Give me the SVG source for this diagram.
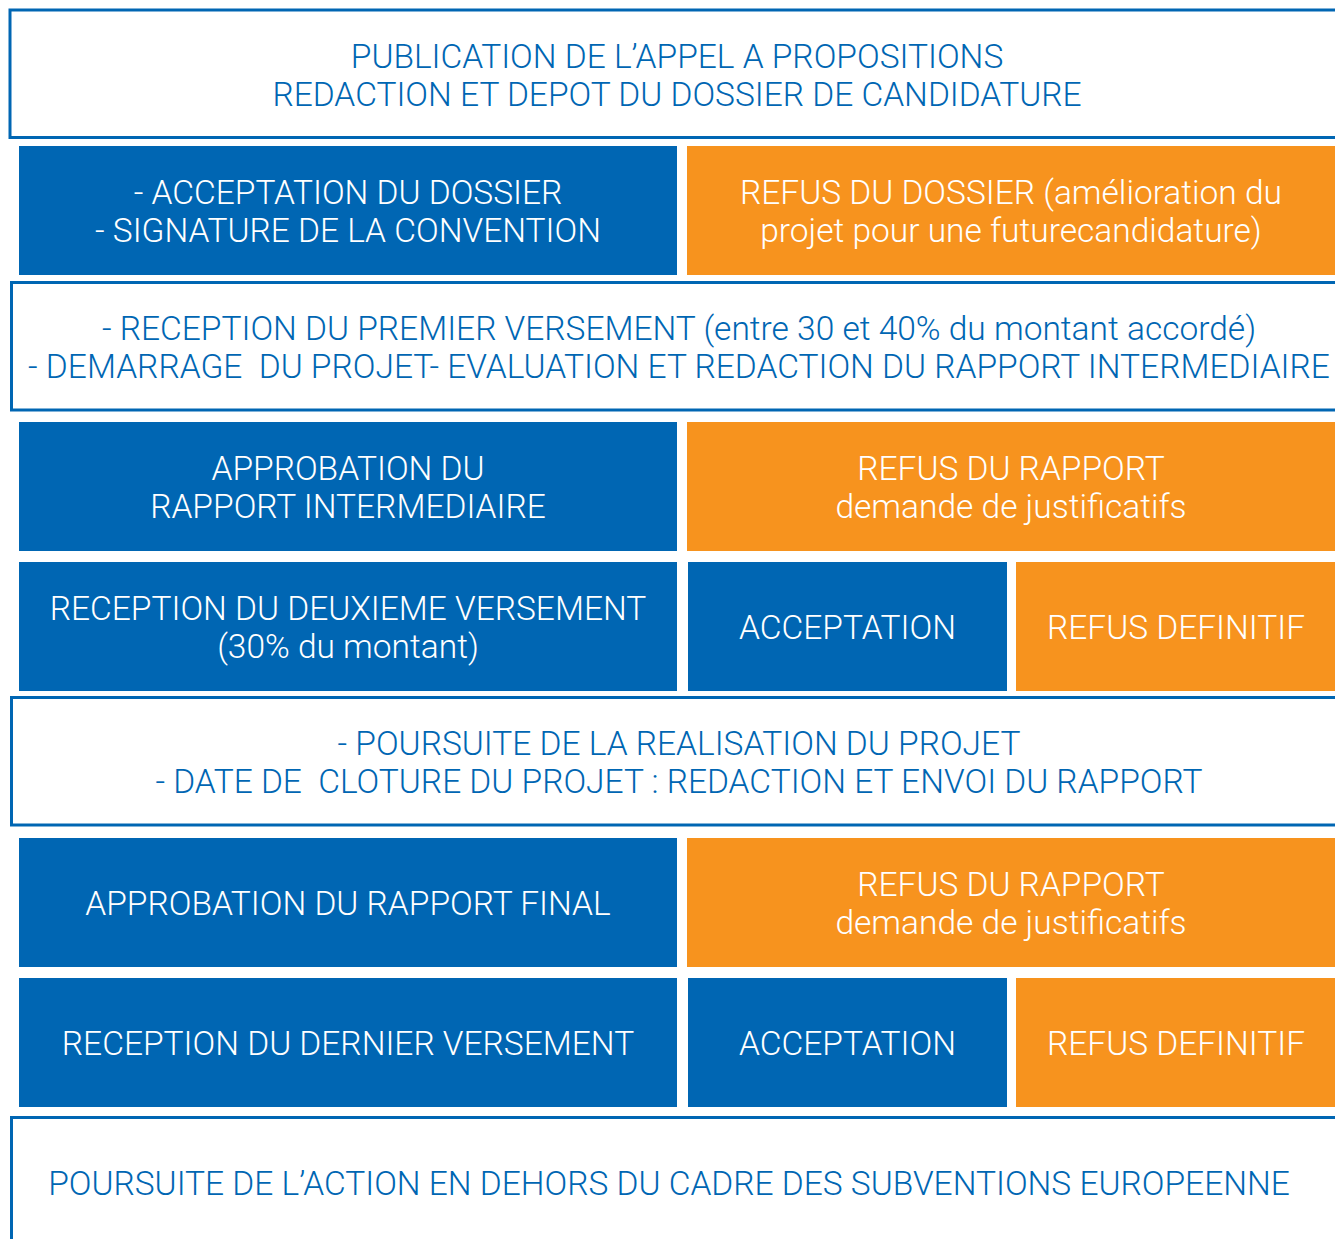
<svg xmlns="http://www.w3.org/2000/svg" width="1335" height="1239" viewBox="0 0 1335 1239">
<style>
.w{fill:#fff;stroke:#0066B3;stroke-width:3}
.b{fill:#0066B3}
.o{fill:#F7931E}
text{font-family:Roboto,"Liberation Sans",sans-serif;font-weight:300;font-size:33.5px;text-anchor:middle}
.tb{fill:#0066B3}
.tw{fill:#fff}
</style>
<rect width="1335" height="1239" fill="#fff"/>
<g id="n1"><rect class="w" x="10" y="10" width="1340" height="127.5"/>
<text class="tb" x="677" y="68">PUBLICATION DE L’APPEL A PROPOSITIONS</text>
<text class="tb" x="677" y="106">REDACTION ET DEPOT DU DOSSIER DE CANDIDATURE</text></g>
<g id="n2"><rect class="b" x="19" y="146" width="658" height="129"/>
<text class="tw" x="348" y="204">- ACCEPTATION DU DOSSIER</text>
<text class="tw" x="348" y="242">- SIGNATURE DE LA CONVENTION</text></g>
<g id="n3"><rect class="o" x="687" y="146" width="660" height="129"/>
<text class="tw" x="1011" y="204">REFUS DU DOSSIER (amélioration du</text>
<text class="tw" x="1011" y="242">projet pour une futurecandidature)</text></g>
<g id="n4"><rect class="w" x="11.5" y="282.5" width="1340" height="127.5"/>
<text class="tb" x="679" y="340">- RECEPTION DU PREMIER VERSEMENT (entre 30 et 40% du montant accordé)</text>
<text class="tb" x="679" y="378" xml:space="preserve">- DEMARRAGE  DU PROJET- EVALUATION ET REDACTION DU RAPPORT INTERMEDIAIRE</text></g>
<g id="n5"><rect class="b" x="19" y="422" width="658" height="129"/>
<text class="tw" x="348" y="480">APPROBATION DU</text>
<text class="tw" x="348" y="518">RAPPORT INTERMEDIAIRE</text></g>
<g id="n6"><rect class="o" x="687" y="422" width="660" height="129"/>
<text class="tw" x="1011" y="480">REFUS DU RAPPORT</text>
<text class="tw" x="1011" y="518">demande de justificatifs</text></g>
<g id="n7"><rect class="b" x="19" y="562" width="658" height="129"/>
<text class="tw" x="348" y="620">RECEPTION DU DEUXIEME VERSEMENT</text>
<text class="tw" x="348" y="658">(30% du montant)</text></g>
<g id="n8"><rect class="b" x="688" y="562" width="319" height="129"/>
<text class="tw" x="847.5" y="639">ACCEPTATION</text></g>
<g id="n9"><rect class="o" x="1016" y="562" width="330" height="129"/>
<text class="tw" x="1176" y="639">REFUS DEFINITIF</text></g>
<g id="n10"><rect class="w" x="11.5" y="697.5" width="1340" height="127.5"/>
<text class="tb" x="679" y="755">- POURSUITE DE LA REALISATION DU PROJET</text>
<text class="tb" x="679" y="793" xml:space="preserve">- DATE DE  CLOTURE DU PROJET : REDACTION ET ENVOI DU RAPPORT</text></g>
<g id="n11"><rect class="b" x="19" y="838" width="658" height="129"/>
<text class="tw" x="348" y="915">APPROBATION DU RAPPORT FINAL</text></g>
<g id="n12"><rect class="o" x="687" y="838" width="660" height="129"/>
<text class="tw" x="1011" y="896">REFUS DU RAPPORT</text>
<text class="tw" x="1011" y="934">demande de justificatifs</text></g>
<g id="n13"><rect class="b" x="19" y="978" width="658" height="129"/>
<text class="tw" x="348" y="1055">RECEPTION DU DERNIER VERSEMENT</text></g>
<g id="n14"><rect class="b" x="688" y="978" width="319" height="129"/>
<text class="tw" x="847.5" y="1055">ACCEPTATION</text></g>
<g id="n15"><rect class="o" x="1016" y="978" width="330" height="129"/>
<text class="tw" x="1176" y="1055">REFUS DEFINITIF</text></g>
<g id="n16"><rect class="w" x="11.5" y="1117.5" width="1340" height="140"/>
<text class="tb" x="669" y="1195">POURSUITE DE L’ACTION EN DEHORS DU CADRE DES SUBVENTIONS EUROPEENNE</text></g>
<g id="connectors"></g>
</svg>
